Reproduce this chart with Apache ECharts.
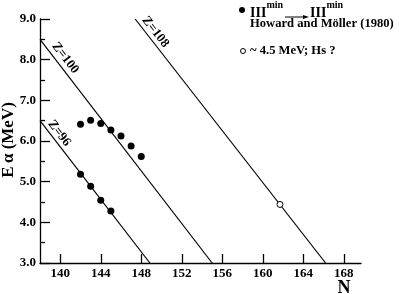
<!DOCTYPE html>
<html><head><meta charset="utf-8">
<script src="https://cdn.jsdelivr.net/npm/echarts@6/dist/echarts.min.js"></script>
<style>html,body{margin:0;padding:0;background:#fff}#c{width:399px;height:294px}</style>
</head><body><div id="c"></div>
<script>
const xTicks = [140,144,148,152,156,160,164,168];
const upperN = [142,143,144,145,146,147,148];
const upperE = [6.41,6.51,6.43,6.27,6.12,5.88,5.62];
const lowerN = [142,143,144,145];
const lowerE = [5.18,4.89,4.54,4.28];
const hsN = [161.7];
const hsE = [4.44];
const lineZ96 = [[138,6.5],[148.85,3.0]];
const lineZ100 = [[138,8.5],[155.0,3.0]];
const lineZ108 = [[147.4,9.0],[166.2,3.0]];
const lineLabels = ['Z=96','Z=100','Z=108'];
const labelAnchors = [[139.9,6.19],[140.5,8.04],[149.4,8.68]];

const FF = '"Liberation Serif","Times New Roman",serif';
const zip = (a,b)=>a.map((v,i)=>[v,b[i]]);
const ax = {color:'#000', width:1.3};
const chart = echarts.init(document.getElementById('c'));
const option = {
  animation:false,
  grid:{left:40, top:19, right:38, bottom:31, containLabel:false, outerBoundsMode:'none'},
  xAxis:{type:'value', min:138, max:169.7,
    axisLine:{show:true, lineStyle:ax},
    axisTick:{show:true, inside:true, length:9, customValues:xTicks, lineStyle:ax},
    axisLabel:{customValues:xTicks, margin:4, color:'#000', fontFamily:FF, fontWeight:'bold', fontSize:13},
    splitLine:{show:false}},
  yAxis:{type:'value', min:3, max:9, interval:1,
    axisLine:{show:true, lineStyle:ax},
    axisTick:{show:true, inside:true, length:10, lineStyle:ax},
    minorTick:{show:true, splitNumber:2, length:5, lineStyle:ax},
    axisLabel:{margin:4, color:'#000', fontFamily:FF, fontWeight:'bold', fontSize:13, formatter:v=>v.toFixed(1)},
    splitLine:{show:false}},
  series:[
    {type:'line', data:lineZ96, symbol:'none', lineStyle:{color:'#000', width:1.2}, silent:true},
    {type:'line', data:lineZ100, symbol:'none', lineStyle:{color:'#000', width:1.2}, silent:true},
    {type:'line', data:lineZ108, symbol:'none', lineStyle:{color:'#000', width:1.2}, silent:true},
    {type:'scatter', data:zip(upperN,upperE), symbolSize:7, itemStyle:{color:'#000', opacity:1}},
    {type:'scatter', data:zip(lowerN,lowerE), symbolSize:7, itemStyle:{color:'#000', opacity:1}},
    {type:'scatter', data:zip(hsN,hsE), symbol:'circle', symbolSize:6, itemStyle:{color:'#fff', borderColor:'#000', borderWidth:1, opacity:1}, z:5}
  ]
};
chart.setOption(option);
const px = p => chart.convertToPixel({gridIndex:0}, p);
const g = [];
[lineZ96,lineZ100,lineZ108].forEach((l,i)=>{
  const a=px(l[0]), b=px(l[1]);
  const ang=Math.atan2(b[1]-a[1], b[0]-a[0]);
  const c=px(labelAnchors[i]);
  g.push({type:'text', x:c[0], y:c[1], rotation:-ang,
    style:{text:lineLabels[i], font:'bold 13px '+FF, fill:'#000', align:'center', verticalAlign:'middle'}});
});
const T = (x,y,text,size,align)=>({type:'text', x:x, y:y,
  style:{text:text, font:'bold '+size+'px '+FF, fill:'#000', align:align||'left', verticalAlign:'middle'}});
g.push({type:'text', x:9, y:140, rotation:Math.PI/2,
  style:{text:'E\u2009α (MeV)', font:'bold 17px '+FF, fill:'#000', align:'center', verticalAlign:'middle'}});
g.push({type:'circle', shape:{cx:242, cy:10, r:3}, style:{fill:'#000'}});
g.push(T(250,13,'III',14));
g.push(T(266.5,5,'min',10));
g.push({type:'line', shape:{x1:285, y1:17, x2:304, y2:17}, style:{stroke:'#000', lineWidth:1}});
g.push({type:'polygon', shape:{points:[[309,17],[303,15],[303,19]]}, style:{fill:'#000'}});
g.push(T(310,13,'III',14));
g.push(T(326.5,5,'min',10));
g.push(T(250,24,'Howard and Möller (1980)',12.6));
g.push({type:'circle', shape:{cx:243, cy:51, r:2.5}, style:{fill:'#fff', stroke:'#000', lineWidth:1}});
g.push(T(250,51,'~ 4.5 MeV; Hs ?',12.6));
g.push(T(344,288,'N',18,'center'));
chart.setOption({graphic:g});
</script></body></html>
